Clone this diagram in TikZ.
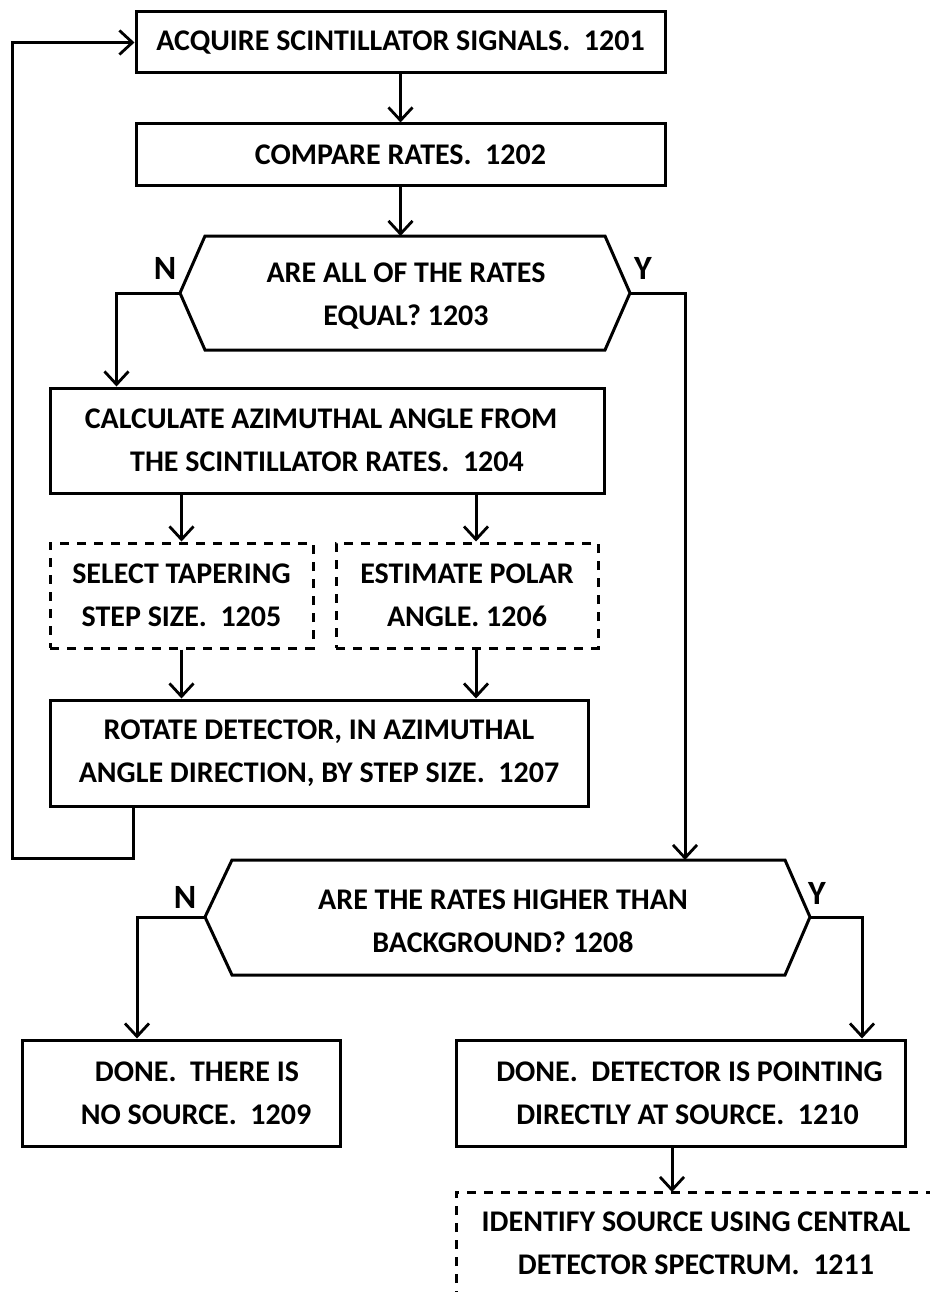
\documentclass[tikz,border=0pt]{standalone}
\usepackage{fontspec}
\setmainfont{Carlito}
\usetikzlibrary{arrows.meta}
\newcommand{\sh}[1]{\hspace*{#1}}
\begin{document}
\begin{tikzpicture}[x=1pt,y=-1pt,line width=3pt,
  txt/.style={font=\bfseries\fontsize{30}{43}\selectfont,align=center,inner sep=0pt},
  box/.style={draw,txt},
  dbox/.style={draw,dashed,dash pattern=on 9pt off 8pt,txt},
  hex/.style={draw,line join=miter},
  arr/.style={-{Straight Barb[length=13pt,width=24pt,line width=2.8pt]}},
  lab/.style={font=\bfseries\fontsize{34}{34}\selectfont,inner sep=0pt}]
\useasboundingbox (0,0) rectangle (929,1292);
% boxes
\node[box,minimum width=529pt,minimum height=61pt] (b1) at (400.5,42.5) {ACQUIRE SCINTILLATOR SIGNALS.\ \ 1201};
\node[box,minimum width=529pt,minimum height=62pt] (b2) at (400.5,155) {COMPARE RATES.\ \ 1202};
% decision 1203
\coordinate (d1w) at (180,293);
\coordinate (d1e) at (630,293);
\coordinate (d1t) at (400.5,236);
\draw[hex] (d1w) -- (205,236) -- (605,236) -- (d1e) -- (605,350) -- (205,350) -- cycle;
\node[txt] (d1) at (406,296) {ARE ALL OF THE RATES\\EQUAL? 1203};
\node[lab] (n1) at (165,268) {N};
\node[lab] (y1) at (643,268) {Y};
\node[box,minimum width=554pt,minimum height=105pt] (b4) at (327,440.5) {\sh{0pt}CALCULATE AZIMUTHAL ANGLE FROM\sh{12pt}\\THE SCINTILLATOR RATES.\ \ 1204};
\node[dbox,minimum width=263pt,minimum height=105pt] (b5) at (181.5,595.5) {SELECT TAPERING\\STEP SIZE.\ \ 1205};
\node[dbox,minimum width=262pt,minimum height=105pt] (b6) at (467,595.5) {ESTIMATE POLAR\\ANGLE. 1206};
\node[box,minimum width=538pt,minimum height=106pt] (b7) at (319,753) {ROTATE DETECTOR, IN AZIMUTHAL\\ANGLE DIRECTION, BY STEP SIZE.\ \ 1207};
% decision 1208
\coordinate (d2w) at (205,917);
\coordinate (d2e) at (810,917);
\coordinate (d2t) at (685,860);
\draw[hex] (d2w) -- (232,860) -- (785,860) -- (d2e) -- (785,975) -- (232,975) -- cycle;
\node[txt] (d2) at (503,921) {ARE THE RATES HIGHER THAN\\BACKGROUND? 1208};
\node[lab] (n2) at (185,897) {N};
\node[lab] (y2) at (817,893) {Y};
\node[box,minimum width=318pt,minimum height=106pt] (b9) at (181,1093) {\sh{32pt}DONE.\ \ THERE IS\\\sh{30pt}NO SOURCE.\ \ 1209};
\node[box,minimum width=449pt,minimum height=106pt] (b10) at (680.5,1093) {\sh{18pt}DONE.\ \ DETECTOR IS POINTING\\\sh{14pt}DIRECTLY AT SOURCE.\ \ 1210};
% partial dashed box 1211
\coordinate (b11t) at (672,1192);
\draw[dashed,dash pattern=on 9pt off 8pt] (456,1300) -- (456,1192) -- (935,1192);
\node[txt] (b11) at (696,1243) {IDENTIFY SOURCE USING CENTRAL\\DETECTOR SPECTRUM.\ \ 1211};
% connectors
\draw[arr] (b1) -- (b2);
\draw[arr] (b2.south) -- (d1t);
\draw[arr] (d1w) -| ([xshift=68pt]b4.north west);
\draw[arr] (d1e) -| (d2t);
\draw[arr] (b5.north |- b4.south) -- (b5.north);
\draw[arr] ([xshift=9pt]b6.north |- b4.south) -- ([xshift=9pt]b6.north);
\draw[arr] (b5.south) -- (b5.south |- b7.north);
\draw[arr] ([xshift=9pt]b6.south) -- ([xshift=9pt]b6.south |- b7.north);
\coordinate (lp) at (12,858);
\draw[arr] ([xshift=85pt]b7.south west) |- (lp) |- (b1.west);
\draw[arr] (d2w) -| ([xshift=-44pt]b9.north);
\draw[arr] (d2e) -| ([xshift=181.5pt]b10.north);
\draw[arr] (b10.south -| b11t) -- (b11t);
\end{tikzpicture}
\end{document}
